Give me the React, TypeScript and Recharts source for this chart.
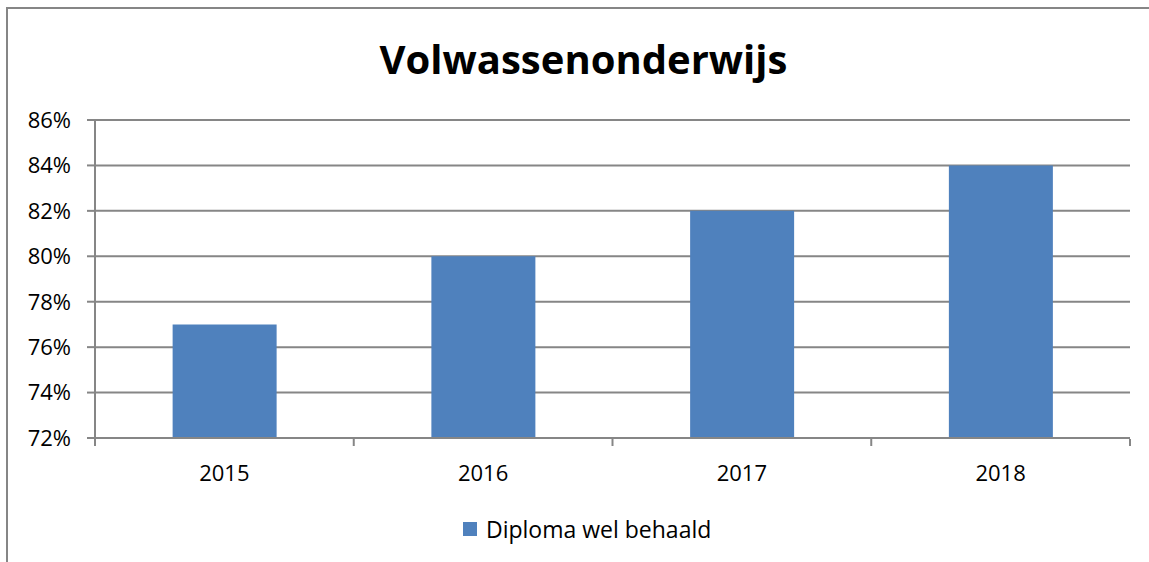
import { BarChart, Bar, XAxis, YAxis, CartesianGrid } from "recharts"

const YEARS = ["2015", "2016", "2017", "2018"]
const DIPLOMA_WEL = [77, 80, 82, 84]
const Y_TICKS = [72, 74, 76, 78, 80, 82, 84, 86]
const EDGE_TICKS = [0, 1, 2, 3, 4]

const BAR_COLOR = "#4F81BD"
const LINE_COLOR = "#868686"
const FONT = "'Open Sans', sans-serif"

const data = YEARS.map((year, i) => ({ year, pct: DIPLOMA_WEL[i] }))

export default function App() {
  return (
    <div style={{ position: "absolute", left: 0, top: 0, width: 1149, height: 562, overflow: "hidden", background: "#fff" }}>
      <div
        style={{
          position: "absolute",
          left: 6,
          top: 7,
          width: 1200,
          height: 600,
          border: `2px solid ${LINE_COLOR}`,
        }}
      />
      <div
        style={{
          position: "absolute",
          left: 0,
          top: 33,
          width: 1167,
          textAlign: "center",
          fontFamily: FONT,
          fontWeight: 700,
          fontSize: 40,
          lineHeight: "52px",
          color: "#000",
        }}
      >
        Volwassenonderwijs
      </div>
      <div style={{ position: "absolute", left: 0, top: 0 }}>
        <BarChart
          width={1149}
          height={562}
          data={data}
          margin={{ top: 120, right: 19, bottom: 122, left: 0 }}
          barCategoryGap="30%"
        >
          <CartesianGrid xAxisId="cat" vertical={false} stroke={LINE_COLOR} strokeWidth={2} />
          <XAxis
            xAxisId="cat"
            dataKey="year"
            height={1}
            tickLine={false}
            tickSize={6}
            tickMargin={21}
            axisLine={{ stroke: LINE_COLOR, strokeWidth: 2 }}
            tick={{ fill: "#000", fontSize: 22, fontFamily: FONT }}
          />
          <XAxis
            xAxisId="edges"
            type="number"
            dataKey="pct"
            domain={[0, 4]}
            ticks={EDGE_TICKS}
            allowDataOverflow
            height={1}
            tickFormatter={() => ""}
            tickSize={7}
            axisLine={false}
            tickLine={{ stroke: LINE_COLOR, strokeWidth: 2 }}
          />
          <YAxis
            width={95}
            domain={[72, 86]}
            ticks={Y_TICKS}
            allowDataOverflow
            tickFormatter={(v) => `${v}%`}
            tickSize={8}
            tickMargin={16}
            axisLine={{ stroke: LINE_COLOR, strokeWidth: 2 }}
            tickLine={{ stroke: LINE_COLOR, strokeWidth: 2 }}
            tick={{ fill: "#000", fontSize: 22, fontFamily: FONT }}
          />
          <Bar xAxisId="cat" dataKey="pct" name="Diploma wel behaald" fill={BAR_COLOR} isAnimationActive={false} />
        </BarChart>
      </div>
      <div
        style={{
          position: "absolute",
          left: 463,
          top: 512,
          display: "flex",
          alignItems: "center",
          fontFamily: FONT,
          fontSize: 23,
          color: "#000",
          height: 34,
        }}
      >
        <span style={{ display: "inline-block", width: 14, height: 14, background: BAR_COLOR, marginRight: 9 }} />
        Diploma wel behaald
      </div>
    </div>
  )
}
